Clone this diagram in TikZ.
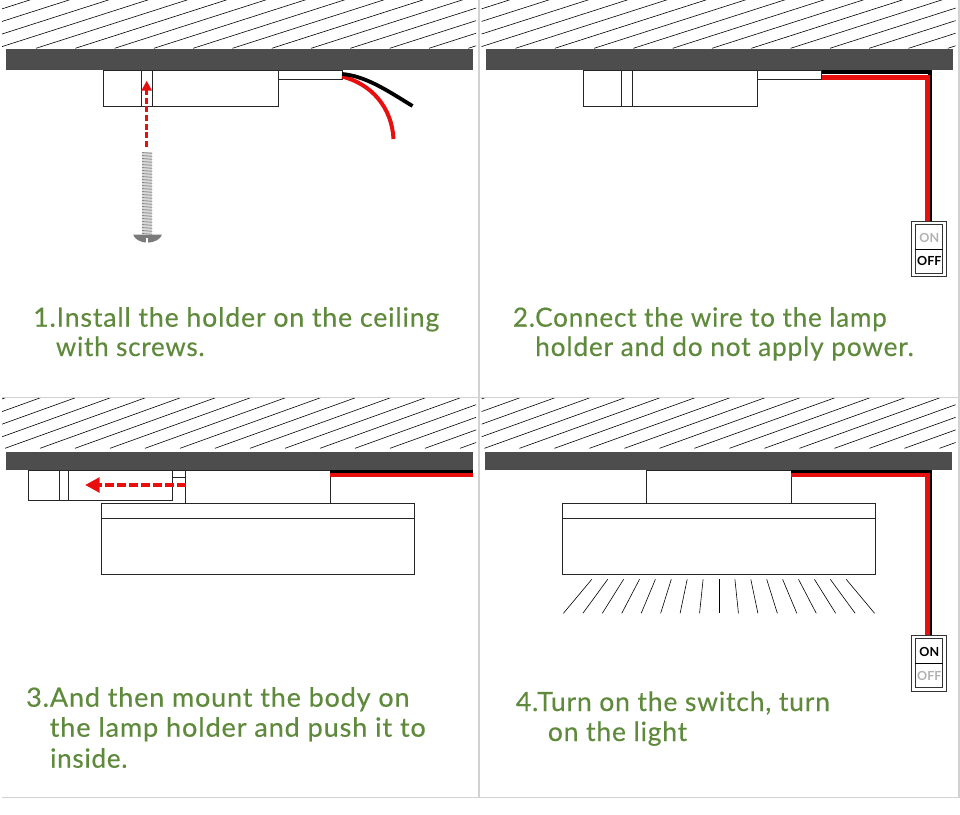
\documentclass[tikz,border=0pt]{standalone}
\usepackage{fontspec}
\setmainfont{Lato}[LetterSpace=3, FakeBold=0.35, AutoFakeBold=0]
\newfontfamily\swfont{Lato}[FakeBold=0]
\usetikzlibrary{arrows.meta}
\definecolor{ceilgray}{HTML}{4D4D4D}
\definecolor{wirered}{HTML}{E8100F}
\definecolor{stepgreen}{HTML}{5F8A3C}
\definecolor{framegray}{HTML}{D2D2D2}
\begin{document}
\begin{tikzpicture}[x=1pt, y=-1pt, >=stealth,
    ceil/.style={fill=ceilgray, draw=none},
    hatchline/.style={black, line width=0.6pt},
    box/.style={draw=black!85, line width=0.9pt},
    redwire/.style={wirered, line width=5pt},
    blackwire/.style={black, line width=4.4pt},
    pusharrow/.style={wirered, line width=3.2pt, dash pattern=on 6pt off 2.7pt, -{Triangle[length=10pt, width=10pt]}},
    slidearrow/.style={wirered, line width=3.6pt, dash pattern=on 9pt off 3pt, -{Triangle[length=14.5pt, width=14.5pt]}},
    steptext/.style={anchor=base west, inner sep=0pt, text=stepgreen, transform shape, font=\fontsize{26.5}{30}\selectfont},
    swtext/.style={inner sep=0pt, font=\fontsize{12.5}{14}\selectfont\swfont\bfseries}]
    \useasboundingbox (0,0) rectangle (960,814);

    % panel frames
    \draw[framegray, line width=1.8pt] (478.6,0) -- (478.6,797.5);
    \draw[framegray, line width=1.4pt] (958.8,0) -- (958.8,797.5);
    \draw[framegray, line width=1.2pt] (2,397.4) -- (958.8,397.4);
    \draw[framegray, line width=1.2pt] (2,797.3) -- (958.8,797.3);

    % upper ceilings
    \foreach \dx in {0,479.5} {
        \begin{scope}[xshift=\dx pt]
            \begin{scope}
                \clip (2,0) rectangle (476,48.3);
                \foreach \k in {-4,...,12}
                    \draw[hatchline] (36+39.3*\k,48.3) -- ++(170,-54.4);
            \end{scope}
            \fill[ceil] (6,48.7) rectangle (473,70);
        \end{scope}
    }

    % lower ceilings
    \foreach \dx in {0,479.5} {
        \begin{scope}[xshift=\dx pt]
            \begin{scope}
                \clip (2,398.3) rectangle (476,448.3);
                \foreach \k in {-4,...,14}
                    \draw[hatchline] (5+35*\k,448.3) -- ++(170,-61.2);
            \end{scope}
            \fill[ceil] (5.8,452.3) rectangle (472.5,470);
        \end{scope}
    }

    % step 1
    \draw[box] (103.7,70) rectangle (278.3,106.3);
    \draw[box] (141.7,70) -- (141.7,106.3);
    \draw[box] (152.7,70) -- (152.7,106.3);
    \draw[box] (278.3,70) rectangle (342,79.3);
    \draw[wirered, line width=4pt] (342,76.5) .. controls (372,84) and (392,108) .. (393.5,139);
    \draw[black, line width=3.8pt] (342,74) .. controls (365,76) and (385,89) .. (412.5,106);
    % screw
    \fill[black!15] (142,151.7) rectangle (152.4,234);
    \foreach \k in {0,...,27}
        \draw[black!45, line width=0.8pt] (142,152.5+3*\k) -- (152.4,153.3+3*\k);
    \fill[black!52] (133.2,234.5) .. controls (134,239) and (141,242.7) .. (147.3,242.7)
        .. controls (154,242.7) and (161,239) .. (162,234.5) -- cycle;
    \fill[white] (146.3,238) rectangle (148.2,243.2);
    \coordinate (screwtop) at (146.7,147);
    \coordinate (holein) at (146.7,80.7);
    \draw[pusharrow] (screwtop) -- (holein);
    \node[steptext, xscale=1.01] (textAa) at (33,326.7) {1.Install the holder on the ceiling};
    \node[steptext, xscale=0.98] (textAb) at (55.7,356) {with screws.};

    % step 2
    \begin{scope}[xshift=479.5pt]
        \draw[box] (103.7,70) rectangle (278.3,106.3);
        \draw[box] (141.7,70) -- (141.7,106.3);
        \draw[box] (152.7,70) -- (152.7,106.3);
        \draw[box] (278.3,70) rectangle (342,79.3);
    \end{scope}
    \draw[blackwire] (821.7,72.2) -- (930,72.2) -- (930,221.3);
    \draw[redwire] (821.7,77) -- (929.7,77);
    \draw[wirered, line width=4.4pt] (927.5,74.5) -- (927.5,221.3);
    \draw[black!80, line width=0.8pt] (911,221.3) rectangle (946.7,276.7);
    \draw[black!80, line width=0.8pt] (915.3,224.7) rectangle (942.7,273.3);
    \draw[black, line width=0.8pt] (915.3,249) -- (942.7,249);
    \node[swtext, text=black!30] (swAon) at (929.3,237.6) {ON};
    \node[swtext, text=black] (swAoff) at (929.3,261.2) {OFF};
    \node[steptext, xscale=0.985] (textBa) at (512.7,326.7) {2.Connect the wire to the lamp};
    \node[steptext, xscale=0.993] (textBb) at (535,356) {holder and do not apply power.};

    % step 3
    \draw[box] (28,470) rectangle (172.3,500.3);
    \draw[box] (59.3,470) -- (59.3,500.3);
    \draw[box] (68.3,470) -- (68.3,500.3);
    \draw[box] (172.3,470) -- (185.5,470);
    \draw[box] (172.3,477.3) -- (185.5,477.3);
    \draw[box] (172.3,470) -- (172.3,477.3);
    \draw[box] (185.5,470) rectangle (330,503);
    \draw[box] (101.3,503) rectangle (414.3,574.3);
    \draw[box] (101.3,518.7) -- (414.3,518.7);
    \draw[black, line width=3.4pt] (330,471.7) -- (472.5,471.7);
    \draw[wirered, line width=3.5pt] (330,475.2) -- (472.5,475.2);
    \coordinate (slidestart) at (185.5,485);
    \coordinate (slideend) at (85,485);
    \draw[slidearrow] (slidestart) -- (slideend);
    \node[steptext, xscale=1.02] (textCa) at (26,706.7) {3.And then mount the body on};
    \node[steptext, xscale=1.025] (textCb) at (49.5,736.7) {the lamp holder and push it to};
    \node[steptext, xscale=0.98] (textCc) at (50,767.7) {inside.};

    % step 4
    \draw[box] (646.7,470) rectangle (791.3,503);
    \draw[box] (562.7,503) rectangle (875.7,574.3);
    \draw[box] (562.7,518.7) -- (875.7,518.7);
    \draw[blackwire, line width=3.4pt] (791.3,471.7) -- (930.3,471.7) -- (930.3,635.3);
    \draw[wirered, line width=3.5pt] (791.3,475.2) -- (929.7,475.2);
    \draw[wirered, line width=4.4pt] (927.5,473.5) -- (927.5,635.3);
    \foreach \i in {-8,...,8}
        \draw[black, line width=0.6pt] (719+15.9*\i,579.3) -- (719+19.45*\i,613.3);
    \draw[black!80, line width=0.8pt] (911,635.3) rectangle (946.7,691);
    \draw[black!80, line width=0.8pt] (915.3,638.7) rectangle (942.7,687.7);
    \draw[black, line width=0.8pt] (915.3,663.3) -- (942.7,663.3);
    \node[swtext, text=black] (swBon) at (929.3,651.7) {ON};
    \node[swtext, text=black!30] (swBoff) at (929.3,675.7) {OFF};
    \node[steptext] (textDa) at (515.7,711) {4.Turn on the switch, turn};
    \node[steptext] (textDb) at (547.7,741) {on the light};
\end{tikzpicture}
\end{document}
